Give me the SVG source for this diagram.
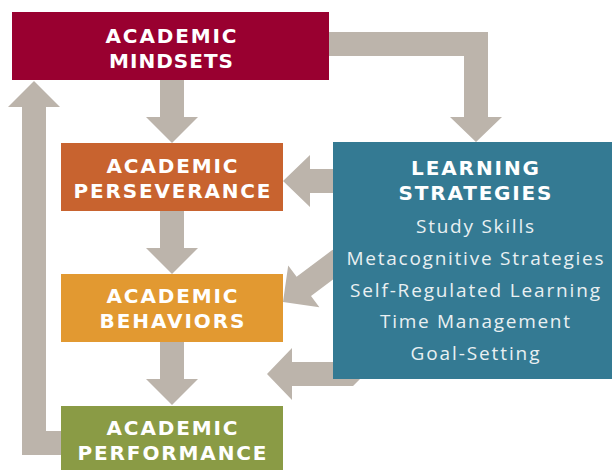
<svg xmlns="http://www.w3.org/2000/svg" width="612" height="470" viewBox="0 0 612 470">
<style>
.arr{fill:#BCB4AB}
.h{font-family:"DejaVu Sans","Open Sans",sans-serif;font-weight:700;font-size:20px;fill:#FFFFFF;text-anchor:middle}
.s{font-family:"Open Sans","Liberation Sans",sans-serif;font-weight:400;font-size:19px;fill:#E9F0F2;text-anchor:middle}
</style>
<rect width="612" height="470" fill="#FFFFFF"/>
<g id="connectors">
<polygon class="arr" points="160,80 184,80 184,117 198,117 172,143 146,117 160,117"/>
<polygon class="arr" points="329,32 488,32 488,117 502,117 476,142 450,117 464,117 464,56 329,56"/>
<polygon class="arr" points="340,169 310,169 310,155 283,181 310,207 310,193 340,193"/>
<polygon class="arr" points="160,211 184,211 184,248 198,248 172,274 146,248 160,248"/>
<polygon class="arr" points="332.6,249.8 296.6,276.8 288.2,265.6 283,302 319.4,307.2 311,296 347,269"/>
<polygon class="arr" points="360,362 292,362 292,348 267,374 292,400 292,386 353,386 360,379"/>
<polygon class="arr" points="160,342 184,342 184,379 198,379 172,405 146,379 160,379"/>
<polygon class="arr" points="61,431 46,431 46,107 60,107 34,81 8,107 22,107 22,455 61,455"/>
</g>
<g id="mindsets">
<rect x="12" y="12" width="317" height="68" fill="#990030"/>
<text class="h" x="171" y="43" textLength="131" lengthAdjust="spacing">ACADEMIC</text>
<text class="h" x="171" y="68" textLength="124" lengthAdjust="spacing">MINDSETS</text>
</g>
<g id="perseverance">
<rect x="61" y="143" width="222" height="68" fill="#C8632F"/>
<text class="h" x="172" y="173" textLength="131" lengthAdjust="spacing">ACADEMIC</text>
<text class="h" x="172" y="198" textLength="197" lengthAdjust="spacing">PERSEVERANCE</text>
</g>
<g id="behaviors">
<rect x="61" y="274" width="222" height="68" fill="#E29931"/>
<text class="h" x="172" y="303" textLength="131" lengthAdjust="spacing">ACADEMIC</text>
<text class="h" x="172" y="328" textLength="145" lengthAdjust="spacing">BEHAVIORS</text>
</g>
<g id="performance">
<rect x="61" y="406" width="222" height="64" fill="#8A9B45"/>
<text class="h" x="172" y="435" textLength="131" lengthAdjust="spacing">ACADEMIC</text>
<text class="h" x="172" y="460" textLength="189" lengthAdjust="spacing">PERFORMANCE</text>
</g>
<g id="learning-strategies">
<rect x="333" y="142" width="279" height="237" fill="#347A93"/>
<text class="h" x="475" y="175" textLength="128" lengthAdjust="spacing">LEARNING</text>
<text class="h" x="475" y="200" textLength="153" lengthAdjust="spacing">STRATEGIES</text>
<text class="s" x="475" y="233" textLength="118" lengthAdjust="spacing">Study Skills</text>
<text class="s" x="475" y="265" textLength="257" lengthAdjust="spacing">Metacognitive Strategies</text>
<text class="s" x="475" y="297" textLength="250" lengthAdjust="spacing">Self-Regulated Learning</text>
<text class="s" x="475" y="328" textLength="190" lengthAdjust="spacing">Time Management</text>
<text class="s" x="475" y="360" textLength="129" lengthAdjust="spacing">Goal-Setting</text>
</g>
</svg>
